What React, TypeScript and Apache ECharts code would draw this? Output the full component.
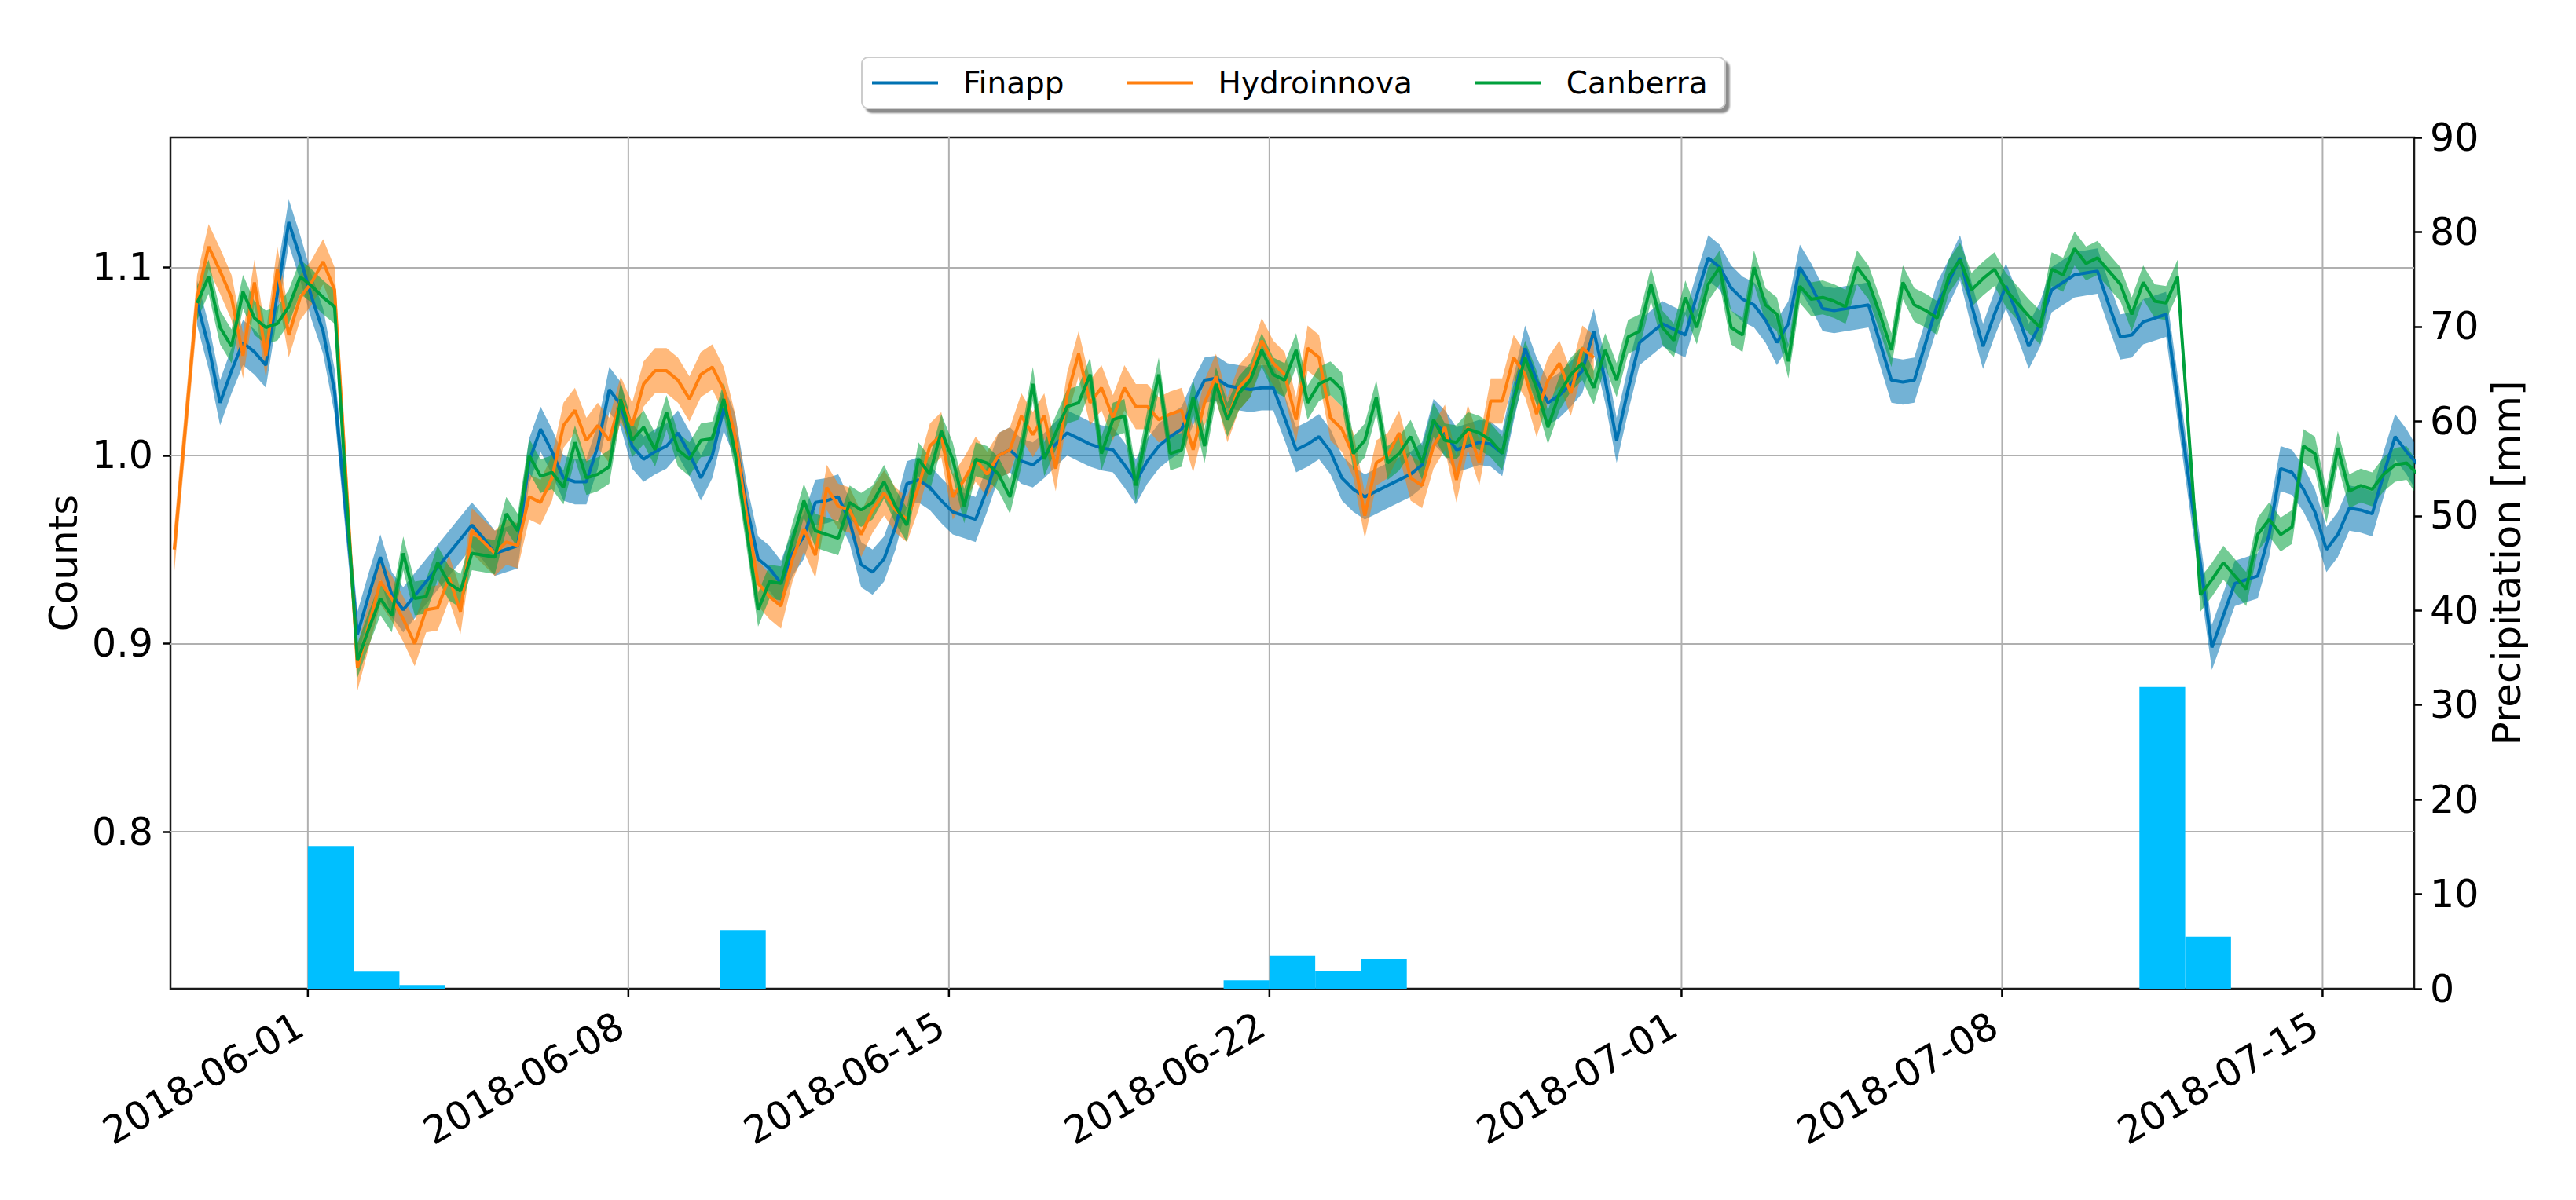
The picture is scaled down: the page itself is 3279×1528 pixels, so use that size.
import React, { useEffect, useRef } from "react";
import * as echarts from "echarts";

const FONT = "'DejaVu Sans', 'Liberation Sans', sans-serif";
const TICK_FONT = 49;
const NAME_FONT = 50;

const seriesNames = ["Finapp", "Hydroinnova", "Canberra"];
const seriesColors = ["#0072B2", "#FF7F0E", "#00A03C"];
const bandColors = ["rgba(0,114,178,0.55)", "rgba(255,127,14,0.55)", "rgba(0,160,60,0.55)"];
const bandHalfWidths = [0.012, 0.012, 0.009];

// 6-hourly samples starting at this time
const sampleStart = "2018-05-29T02:00:00Z";
const sampleStepHours = 6;

const finapp = [
  null, null, 1.081, 1.058, 1.028, 1.045, 1.060, 1.055, 1.048, 1.086,
  1.124, 1.105, 1.084, 1.066, 1.034, 0.969, 0.905, 0.926, 0.946, 0.926,
  0.918, null, null, null, null, null, 0.963, 0.956, 0.948, 0.950,
  0.952, 0.997, 1.014, 1.002, 0.988, 0.986, 0.986, 1.005, 1.035, 1.027,
  1.005, 0.998, 1.002, 1.005, 1.012, 1.001, 0.988, 1.000, 1.025, 1.010,
  0.973, 0.945, 0.940, 0.932, 0.948, 0.957, 0.975, 0.976, 0.978, 0.965,
  0.942, 0.938, 0.945, 0.962, 0.985, 0.987, 0.983, 0.976, 0.970, 0.968,
  0.966, 0.982, 1.000, 1.003, 0.997, 0.995, 1.000, 1.006, 1.012, 1.009,
  1.006, 1.004, 1.003, 0.995, 0.986, 0.997, 1.005, 1.010, 1.014, 1.028,
  1.040, 1.041, 1.037, 1.036, 1.035, 1.036, 1.036, 1.020, 1.003, 1.006,
  1.010, 1.002, 0.988, 0.982, 0.978, null, null, null, 0.990, 0.995,
  1.018, 1.012, 1.003, 1.005, 1.007, 1.006, 1.001, 1.030, 1.057, 1.040,
  1.028, 1.032, 1.038, 1.045, 1.066, 1.040, 1.008, 1.035, 1.060, 1.065,
  1.070, 1.067, 1.064, 1.085, 1.105, 1.100, 1.089, 1.083, 1.080, 1.072,
  1.060, 1.070, 1.100, 1.090, 1.078, 1.077, 1.078, 1.079, 1.080, 1.060,
  1.040, 1.039, 1.040, 1.060, 1.080, 1.092, 1.105, 1.080, 1.058, 1.075,
  1.090, 1.075, 1.058, 1.070, 1.088, 1.092, 1.096, 1.097, 1.098, 1.080,
  1.063, 1.064, 1.071, 1.073, 1.075, null, null, null, 0.898, 0.915,
  0.932, 0.934, 0.936, 0.958, 0.993, 0.991, 0.982, 0.970, 0.950, 0.958,
  0.972, 0.971, 0.969, 0.990, 1.010, 1.002, 0.995,
];

const hydroinnova = [
  0.950, null, 1.084, 1.111, 1.098, 1.084, 1.053, 1.092, 1.053, 1.099,
  1.064, 1.084, 1.092, 1.103, 1.088, 0.988, 0.887, 0.910, 0.933, 0.924,
  0.913, 0.900, 0.918, 0.919, 0.935, 0.917, 0.960, 0.954, 0.948, 0.954,
  0.952, 0.978, 0.975, 0.988, 1.016, 1.024, 1.008, 1.016, 1.008, 1.030,
  1.016, 1.038, 1.045, 1.045, 1.040, 1.030, 1.043, 1.047, 1.035, 1.010,
  0.968, 0.932, 0.925, 0.920, 0.945, 0.961, 0.947, 0.983, 0.973, 0.971,
  0.958, 0.971, 0.980, 0.971, 0.966, 0.983, 1.005, 1.011, 0.978, 0.987,
  0.998, 0.990, 1.000, 1.003, 1.021, 1.011, 1.021, 0.993, 1.032, 1.054,
  1.028, 1.036, 1.020, 1.036, 1.026, 1.026, 1.019, 1.022, 1.024, 1.003,
  1.028, 1.042, 1.019, 1.036, 1.043, 1.061, 1.049, 1.043, 1.019, 1.057,
  1.052, 1.020, 1.014, 1.000, 0.968, 0.996, 1.000, 1.012, 0.988, 0.984,
  1.005, 1.015, 0.987, 1.015, 0.996, 1.029, 1.029, 1.052, 1.043, 1.022,
  1.040, 1.049, 1.033, 1.057, 1.052,
];

const canberra = [
  null, null, 1.081, 1.095, 1.068, 1.058, 1.087, 1.073, 1.068, 1.070,
  1.079, 1.095, 1.090, 1.084, 1.079, 0.982, 0.891, 0.908, 0.924, 0.915,
  0.948, 0.924, 0.925, 0.943, 0.932, 0.928, 0.948, 0.947, 0.946, 0.969,
  0.960, 1.000, 0.989, 0.991, 0.983, 1.007, 0.988, 0.990, 0.994, 1.030,
  1.008, 1.015, 1.003, 1.023, 1.003, 0.998, 1.008, 1.009, 1.030, 1.001,
  0.960, 0.918, 0.933, 0.932, 0.955, 0.976, 0.960, 0.958, 0.956, 0.975,
  0.971, 0.975, 0.986, 0.973, 0.963, 0.998, 0.990, 1.013, 0.998, 0.973,
  0.998, 0.996, 0.990, 0.978, 1.003, 1.038, 0.998, 1.012, 1.026, 1.028,
  1.043, 1.001, 1.019, 1.021, 0.984, 1.015, 1.043, 1.001, 1.003, 1.031,
  1.005, 1.038, 1.019, 1.033, 1.040, 1.056, 1.043, 1.040, 1.056, 1.028,
  1.038, 1.041, 1.035, 1.001, 1.008, 1.031, 0.996, 1.001, 1.010, 0.996,
  1.019, 1.008, 1.007, 1.014, 1.012, 1.008, 1.001, 1.029, 1.052, 1.036,
  1.015, 1.033, 1.043, 1.049, 1.036, 1.056, 1.040, 1.063, 1.066, 1.091,
  1.068, 1.061, 1.084, 1.068, 1.091, 1.100, 1.068, 1.064, 1.100, 1.080,
  1.075, 1.050, 1.090, 1.083, 1.084, 1.082, 1.079, 1.100, 1.092, 1.075,
  1.056, 1.092, 1.080, 1.077, 1.073, 1.095, 1.104, 1.088, 1.094, 1.099,
  1.088, 1.081, 1.074, 1.068, 1.099, 1.096, 1.110, 1.102, 1.105, 1.098,
  1.091, 1.075, 1.092, 1.082, 1.081, 1.095, null, 0.926, 0.934, 0.943,
  0.936, 0.929, 0.958, 0.966, 0.958, 0.962, 1.005, 1.001, 0.973, 1.004,
  0.981, 0.984, 0.982, 0.990, 0.995, 0.996, 0.990,
];

const precipDays = [
  "2018-06-01", "2018-06-02", "2018-06-03", "2018-06-10", "2018-06-21",
  "2018-06-22", "2018-06-23", "2018-06-24", "2018-07-11", "2018-07-12",
];
const precipMm = [15.1, 1.8, 0.4, 6.2, 0.9, 3.5, 1.9, 3.15, 31.9, 5.5];

const xTickLabels = [
  "2018-06-01", "2018-06-08", "2018-06-15", "2018-06-22",
  "2018-07-01", "2018-07-08", "2018-07-15",
];
const countTicks = [0.8, 0.9, 1.0, 1.1];
const xRange = ["2018-05-29T00:00:00Z", "2018-07-17T00:00:00Z"];
const countRange = [0.7166, 1.169];
const precipRange = [0, 90];

export default function App() {
  const ref = useRef<HTMLDivElement>(null);

  useEffect(() => {
    if (!ref.current) return;
    const chart = echarts.init(ref.current, undefined, { renderer: "svg" });
    const t0 = Date.parse(sampleStart);
    const step = sampleStepHours * 3600 * 1000;
    const DAY = 24 * 3600 * 1000;
    const dataSets = [finapp, hydroinnova, canberra];

    const series: any[] = [];

    // vertical grid lines, x ticks and rotated date labels
    series.push({
      type: "custom",
      name: "xticks",
      silent: true,
      clip: false,
      z: 1,
      data: xTickLabels.map((d) => [Date.parse(d + "T00:00:00Z"), 1.0]),
      encode: { x: 0, y: 1 },
      renderItem: (params: any, api: any) => {
        const cs = params.coordSys;
        const x = api.coord([api.value(0), api.value(1)])[0];
        const yb = cs.y + cs.height;
        return {
          type: "group",
          children: [
            { type: "line", shape: { x1: x, y1: cs.y, x2: x, y2: yb }, style: { stroke: "#b0b0b0", lineWidth: 2 } },
            { type: "line", shape: { x1: x, y1: yb, x2: x, y2: yb + 10 }, style: { stroke: "#000", lineWidth: 2.5 } },
            {
              type: "text",
              x: x - 22,
              y: yb + 22,
              rotation: Math.PI / 6,
              style: {
                text: xTickLabels[params.dataIndex],
                align: "right",
                verticalAlign: "top",
                fontSize: TICK_FONT,
                fontFamily: FONT,
                fill: "#000",
              },
            },
          ],
        };
      },
    });

    // precipitation bars (one day wide)
    series.push({
      type: "custom",
      name: "Precipitation",
      silent: true,
      yAxisIndex: 1,
      z: 2,
      data: precipDays.map((d, i) => {
        const s = Date.parse(d + "T00:00:00Z");
        return [s, s + DAY, precipMm[i]];
      }),
      encode: { x: [0, 1], y: 2 },
      renderItem: (params: any, api: any) => {
        const a = api.coord([api.value(0), api.value(2)]);
        const b = api.coord([api.value(1), 0]);
        return {
          type: "rect",
          shape: { x: a[0], y: a[1], width: b[0] - a[0], height: b[1] - a[1] },
          style: { fill: "#00BFFF" },
        };
      },
    });

    dataSets.forEach((vals, si) => {
      const pts: number[][] = [];
      vals.forEach((v, k) => {
        if (v !== null && v !== undefined) pts.push([t0 + k * step, v as number]);
      });
      const hw = bandHalfWidths[si];
      const bandData = pts.map((p) => [p[0], p[1] - hw, p[1] + hw]);
      series.push({
        type: "custom",
        name: seriesNames[si] + " band",
        silent: true,
        z: 2,
        data: bandData,
        encode: { x: 0, y: [1, 2] },
        renderItem: (params: any, api: any) => {
          if (params.dataIndex !== 0) return null;
          const cs = params.coordSys;
          const cx = (x: number) => Math.max(cs.x, Math.min(cs.x + cs.width, x));
          const upper = bandData.map((p) => {
            const c = api.coord([p[0], p[2]]);
            return [cx(c[0]), c[1]];
          });
          const lower = bandData
            .map((p) => {
              const c = api.coord([p[0], p[1]]);
              return [cx(c[0]), c[1]];
            })
            .reverse();
          return {
            type: "polygon",
            shape: { points: upper.concat(lower) },
            style: { fill: bandColors[si] },
          };
        },
      });
      series.push({
        type: "line",
        name: seriesNames[si],
        data: pts,
        color: seriesColors[si],
        showSymbol: false,
        symbol: "none",
        silent: true,
        z: 2,
        lineStyle: { width: 4, color: seriesColors[si] },
        itemStyle: { color: seriesColors[si] },
        emphasis: { disabled: true },
      });
    });

    const option: any = {
      animation: false,
      useUTC: true,
      backgroundColor: "#ffffff",
      textStyle: { fontFamily: FONT },
      grid: {
        left: 217,
        right: 206,
        top: 175,
        bottom: 269,
        show: true,
        borderColor: "#1a1a1a",
        borderWidth: 2.5,
        backgroundColor: "transparent",
      },
      legend: {
        data: seriesNames,
        left: 1097,
        top: 73,
        orient: "horizontal",
        icon: "rect",
        itemWidth: 84,
        itemHeight: 4,
        itemGap: 80,
        padding: [13, 22, 13, 13],
        backgroundColor: "#ffffff",
        borderColor: "#cccccc",
        borderWidth: 2,
        borderRadius: 8,
        shadowColor: "rgba(0,0,0,0.45)",
        shadowBlur: 2,
        shadowOffsetX: 5,
        shadowOffsetY: 5,
        selectedMode: false,
        textStyle: { fontSize: 39, color: "#000", fontFamily: FONT, padding: [0, 0, 0, 27] },
      },
      xAxis: {
        type: "time",
        min: Date.parse(xRange[0]),
        max: Date.parse(xRange[1]),
        axisLine: { show: false },
        axisTick: { show: false },
        axisLabel: { show: false },
        splitLine: { show: false },
      },
      yAxis: [
        {
          type: "value",
          position: "left",
          min: countRange[0],
          max: countRange[1],
          splitNumber: 5,
          axisLine: { show: false },
          axisTick: {
            show: true,
            length: 10,
            lineStyle: { color: "#000", width: 2.5 },
            customValues: countTicks,
          },
          axisLabel: {
            customValues: countTicks,
            fontSize: TICK_FONT,
            color: "#000",
            fontFamily: FONT,
            margin: 22,
            formatter: (v: number) =>
              Math.abs(v * 10 - Math.round(v * 10)) < 1e-6 ? v.toFixed(1) : "",
          },
          splitLine: { show: true, lineStyle: { color: "#b0b0b0", width: 2 } },
          name: "Counts",
          nameLocation: "middle",
          nameGap: 111,
          nameTextStyle: { fontSize: NAME_FONT, color: "#000", fontFamily: FONT },
        },
        {
          type: "value",
          position: "right",
          min: precipRange[0],
          max: precipRange[1],
          interval: 10,
          axisLine: { show: false },
          axisTick: { show: true, length: 10, lineStyle: { color: "#000", width: 2.5 } },
          axisLabel: { fontSize: TICK_FONT, color: "#000", fontFamily: FONT, margin: 20 },
          splitLine: { show: false },
          name: "Precipitation [mm]",
          nameLocation: "middle",
          nameGap: 88,
          nameTextStyle: { fontSize: NAME_FONT, color: "#000", fontFamily: FONT },
        },
      ],
      series,
    };

    chart.setOption(option);
    return () => chart.dispose();
  }, []);

  return (
    <div
      ref={ref}
      style={{ position: "fixed", left: 0, top: 0, width: 3279, height: 1528, background: "#fff" }}
    />
  );
}
